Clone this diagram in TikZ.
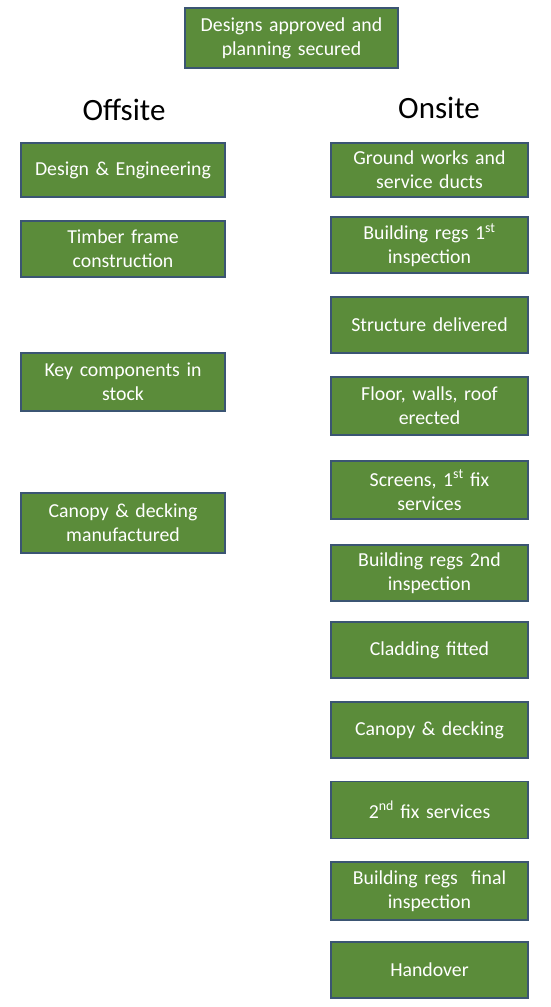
\documentclass[tikz,border=0pt]{standalone}
\usepackage{fontspec}
\setmainfont{Carlito}
\definecolor{boxgreen}{HTML}{5B8C3A}
\definecolor{boxedge}{HTML}{3B5573}

\begin{document}
\begin{tikzpicture}[
  x=1pt, y=-1pt,
  step box/.style={draw=boxedge, line width=1.2pt, fill=boxgreen, text=white,
    font=\fontsize{19.8}{24}\selectfont, align=center, inner sep=0pt,
    minimum height=56pt},
  offbox/.style={step box, minimum width=204pt, text width=200pt},
  onbox/.style={step box, minimum width=197pt, text width=193pt},
  headline/.style={font=\fontsize{31}{34}\selectfont},
]
  \useasboundingbox (0,0) rectangle (550,1007);

  % top box and column titles
  \node[step box, minimum width=213pt, minimum height=60pt, text width=209pt] (approved) at (291.5,38)
    {Designs approved and\\planning secured};
  \node[headline] (offsite) at (124,110) {Offsite};
  \node[headline] (onsite) at (439,108) {Onsite};

  % offsite column
  \node[offbox, minimum height=54pt] (design) at (123,170) {Design \& Engineering};
  \node[offbox] (timber) at (123,249) {Timber frame\\construction};
  \node[offbox, minimum height=58pt] (components) at (123,382) {Key components in\\stock};
  \node[offbox, minimum height=60pt] (canopyman) at (123,523) {Canopy \& decking\\manufactured};

  % onsite column
  \node[onbox, minimum height=54pt] (ground) at (429.5,170) {Ground works and\\service ducts};
  \node[onbox] (regsone) at (429.5,245) {Building regs 1\textsuperscript{st}\\inspection};
  \node[onbox] (delivered) at (429.5,325) {Structure delivered};
  \node[onbox, minimum height=58pt] (erected) at (429.5,406) {Floor, walls, roof\\erected};
  \node[onbox, minimum height=58pt] (screens) at (429.5,490) {Screens, 1\textsuperscript{st} fix\\services};
  \node[onbox] (regstwo) at (429.5,573) {Building regs 2nd\\inspection};
  \node[onbox] (cladding) at (429.5,650) {Cladding fitted};
  \node[onbox] (canopy) at (429.5,730) {Canopy \& decking};
  \node[onbox, minimum height=57pt] (fix) at (429.5,810) {2\textsuperscript{nd} fix services};
  \node[onbox, minimum height=58pt] (regsfinal) at (429.5,891) {Building regs~ final\\inspection};
  \node[onbox] (handover) at (429.5,970) {Handover};
\end{tikzpicture}
\end{document}
